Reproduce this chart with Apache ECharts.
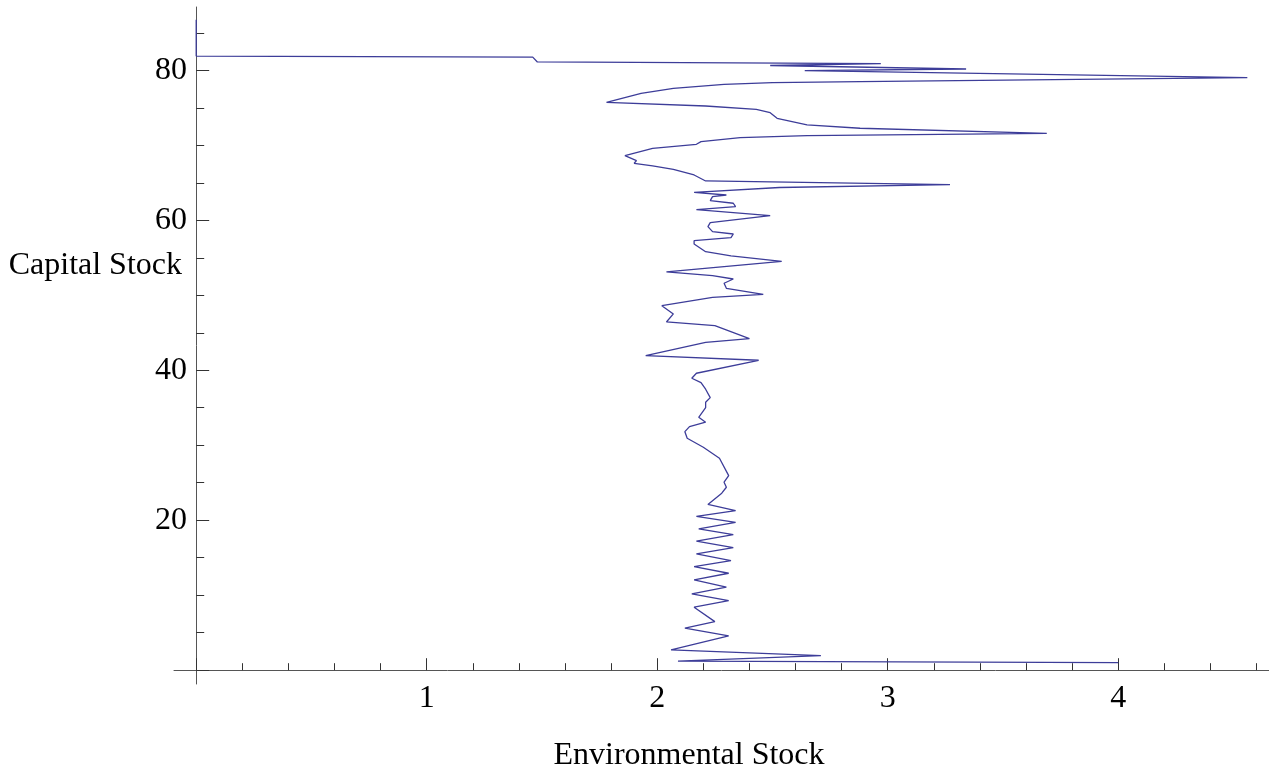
<!DOCTYPE html>
<html>
<head>
<meta charset="utf-8">
<script src="https://cdn.jsdelivr.net/npm/echarts@6/dist/echarts.min.js"></script>
<style>
  html, body { margin: 0; padding: 0; background: #fff; }
  #chart { width: 1269px; height: 776px; }
</style>
</head>
<body>
<div id="chart"></div>
<script>
// trajectory, in time order (starts bottom right, ends top left)
const envStock = [
  4.00, 2.09, 2.71, 2.06, 2.31, 2.12, 2.25, 2.16, 2.31, 2.15,
  2.30, 2.16, 2.31, 2.16, 2.32, 2.17, 2.33, 2.17, 2.33, 2.18,
  2.34, 2.17, 2.34, 2.22, 2.28, 2.30, 2.29, 2.31, 2.27, 2.20,
  2.13, 2.12, 2.14, 2.21, 2.18, 2.21, 2.21, 2.23, 2.21, 2.19,
  2.15, 2.17, 2.44, 1.95, 2.21, 2.40, 2.25, 2.04, 2.07, 2.02,
  2.24, 2.46, 2.30, 2.29, 2.33, 2.24, 2.04, 2.54, 2.32, 2.21,
  2.16, 2.16, 2.32, 2.33, 2.24, 2.22, 2.23, 2.49, 2.17, 2.34,
  2.33, 2.23, 2.24, 2.30, 2.16, 2.53, 3.27, 2.21, 2.16, 2.07,
  1.98, 1.90, 1.91, 1.86, 1.98, 2.17, 2.19, 2.36, 2.65, 3.69,
  2.88, 2.65, 2.52, 2.49, 2.43, 2.21, 1.78, 1.93, 2.07, 2.29,
  2.50, 2.88, 4.56, 2.64, 3.34, 2.49, 2.97, 1.48, 1.46, 0.00,
  0.00
]
const capStock = [
  1.01, 1.20, 1.95, 2.71, 4.57, 5.60, 6.48, 8.40, 9.28, 10.17,
  11.07, 12.04, 12.93, 13.81, 14.61, 15.51, 16.35, 17.20, 18.08, 18.84,
  19.71, 20.51, 21.28, 22.11, 23.60, 24.40, 25.07, 25.95, 28.27, 29.73,
  30.93, 31.81, 32.48, 33.07, 33.73, 35.01, 35.73, 36.35, 37.47, 38.35,
  38.93, 39.60, 41.33, 41.95, 43.73, 44.21, 45.95, 46.44, 47.51, 48.61,
  49.73, 50.13, 50.93, 51.60, 52.17, 52.61, 53.11, 54.53, 55.24, 55.81,
  56.84, 57.28, 57.68, 58.17, 58.48, 59.15, 59.68, 60.61, 61.41, 61.81,
  62.27, 62.61, 63.15, 63.37, 63.71, 64.37, 64.75, 65.24, 66.04, 66.80,
  67.24, 67.60, 67.95, 68.61, 69.60, 70.13, 70.48, 71.01, 71.28, 71.60,
  72.27, 72.71, 73.60, 74.35, 74.80, 75.24, 75.73, 76.93, 77.60, 78.13,
  78.35, 78.48, 79.01, 79.95, 80.17, 80.64, 80.88, 81.11, 81.75, 81.90,
  86.73
]

const xMajorTicks = [0, 1, 2, 3, 4]
const xLabels = [1, 2, 3, 4]
const xMinorTicks = [0.2, 0.4, 0.6, 0.8, 1.2, 1.4, 1.6, 1.8, 2.2, 2.4, 2.6, 2.8, 3.2, 3.4, 3.6, 3.8, 4.2, 4.4, 4.6]
const yMajorTicks = [0, 20, 40, 60, 80]
const yLabels = [20, 40, 60, 80]
const yMinorTicks = [5, 10, 15, 25, 30, 35, 45, 50, 55, 65, 70, 75, 85]

const X_MIN = -0.0963, X_MAX = 4.654
const Y_MIN = -1.84, Y_MAX = 88.44

const serif = "'Liberation Serif', 'Times New Roman', serif"
const axisColor = '#555'
const tickColor = '#333'
const FONT = 32

const points = envStock.map((e, i) => [e, capStock[i]])

// one axis per job: line + major ticks, minor ticks, labels
function xAx (extra) {
  return Object.assign({
    type: 'value', min: X_MIN, max: X_MAX, position: 'bottom',
    splitLine: { show: false },
    axisLine: { show: false, onZero: true, onZeroAxisIndex: 0 },
    axisTick: { show: false },
    axisLabel: { show: false }
  }, extra)
}
function yAx (extra) {
  return Object.assign({
    type: 'value', min: Y_MIN, max: Y_MAX, position: 'left',
    splitLine: { show: false },
    axisLine: { show: false, onZero: true, onZeroAxisIndex: 0 },
    axisTick: { show: false },
    axisLabel: { show: false }
  }, extra)
}

const chart = echarts.init(document.getElementById('chart'))

chart.setOption({
  animation: false,
  backgroundColor: '#fff',
  grid: { left: 174, top: 7, width: 1095, height: 677 },
  xAxis: [
    xAx({
      axisLine: { show: true, onZero: true, onZeroAxisIndex: 0, lineStyle: { color: axisColor, width: 1 } },
      axisTick: { show: true, inside: true, length: 12, customValues: xMajorTicks, lineStyle: { color: tickColor, width: 1 } }
    }),
    xAx({
      axisTick: { show: true, inside: true, length: 7, customValues: xMinorTicks, lineStyle: { color: tickColor, width: 1 } }
    }),
    xAx({
      // labels sit at the grid edge in v6, so pull them back to the zero line
      axisLabel: { show: true, customValues: xLabels, margin: -1, fontFamily: serif, fontSize: FONT, lineHeight: FONT, color: '#000' }
    })
  ],
  yAxis: [
    yAx({
      axisLine: { show: true, onZero: true, onZeroAxisIndex: 0, lineStyle: { color: axisColor, width: 1 } },
      axisTick: { show: true, inside: true, length: 13, customValues: yMajorTicks, lineStyle: { color: tickColor, width: 1 } }
    }),
    yAx({
      axisTick: { show: true, inside: true, length: 8, customValues: yMinorTicks, lineStyle: { color: tickColor, width: 1 } }
    }),
    yAx({
      axisLabel: { show: true, customValues: yLabels, margin: -13, fontFamily: serif, fontSize: FONT, color: '#000' }
    })
  ],
  graphic: [
    {
      type: 'text',
      x: 182,
      y: 266,
      style: {
        text: 'Capital Stock',
        font: FONT + 'px ' + serif,
        fill: '#000',
        textAlign: 'right',
        textVerticalAlign: 'middle'
      }
    },
    {
      type: 'text',
      x: 689,
      y: 756,
      style: {
        text: 'Environmental Stock',
        font: FONT + 'px ' + serif,
        fill: '#000',
        textAlign: 'center',
        textVerticalAlign: 'middle'
      }
    }
  ],
  series: [
    {
      type: 'line',
      xAxisIndex: 0,
      yAxisIndex: 0,
      data: points,
      showSymbol: false,
      smooth: false,
      lineStyle: { color: '#3d3d99', width: 1.3 },
      itemStyle: { color: '#3d3d99' }
    }
  ]
})
</script>
</body>
</html>
